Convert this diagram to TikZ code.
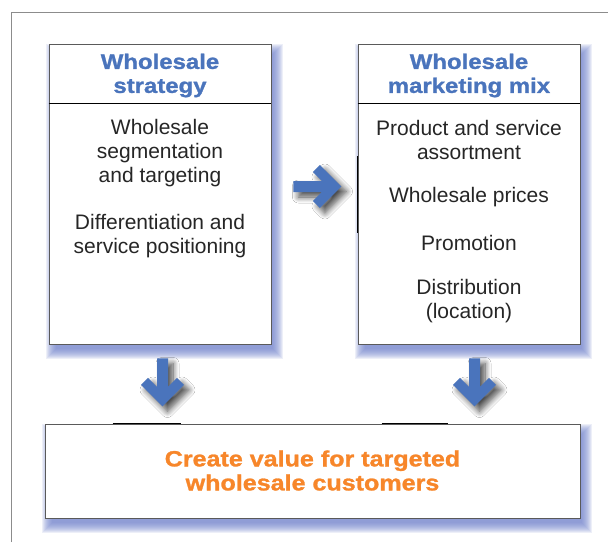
\documentclass[tikz,border=0pt]{standalone}
\usepackage{fontspec}
\setmainfont{Liberation Sans}
\newfontfamily\heavyfont{Liberation Sans}[BoldFeatures={FakeBold=1.2, FakeStretch=1.14}]
\usepackage{tikz}
\usetikzlibrary{calc, shadows.blur}
\definecolor{mixblue}{HTML}{4A74BC}
\definecolor{valueorange}{HTML}{F7862A}
\definecolor{frameline}{HTML}{8C8C8C}
\definecolor{boxline}{HTML}{5A5A5A}
\definecolor{haloblue}{HTML}{7585CF}
% soft blue glow behind a box, given its corners
\newcommand{\boxhalo}[4]{%
  \foreach \k in {8,7,...,-2}
    \fill[haloblue, opacity=0.13] (#1+5-\k,#2+8-\k) rectangle (#3+4+\k,#4+7+\k);}

\begin{document}
\begin{tikzpicture}[
    x=1pt, y=-1pt,
    panel/.style={rectangle, draw=boxline, fill=white, line width=0.9pt},
    head/.style={align=center, text=mixblue, font=\heavyfont\bfseries\fontsize{21}{24}\selectfont, inner sep=0pt},
    body/.style={align=center, text=black!85, font=\fontsize{21}{24}\selectfont, inner sep=0pt},
    value/.style={align=center, text=valueorange, font=\heavyfont\bfseries\fontsize{22}{24}\selectfont, inner sep=0pt},
    arrowfill/.style={fill=mixblue, blur shadow={shadow xshift=5pt, shadow yshift=-5pt, shadow blur radius=6pt, shadow blur steps=10, shadow opacity=70}},
    rightarrow/.pic={\fill[arrowfill] (0,-5.5) -- (28.5,-5.5) -- (19.5,-14.5) -- (26.5,-21.5) -- (48,0)
        -- (26.5,21.5) -- (19.5,14.5) -- (28.5,5.5) -- (0,5.5) -- cycle;},
    downarrow/.pic={\fill[arrowfill] (-5.5,0) -- (-5.5,28.5) -- (-14.5,19.5) -- (-21.5,26.5) -- (0,48)
        -- (21.5,26.5) -- (14.5,19.5) -- (5.5,28.5) -- (5.5,0) -- cycle;}
]
\useasboundingbox (0,0) rectangle (608,542);
\fill[white] (0,0) rectangle (608,542);
\boxhalo{49}{44}{271}{344}
\boxhalo{358}{44}{580}{344}
\boxhalo{45}{424}{580}{518}

% the three boxes
\node[panel, minimum width=222pt, minimum height=300pt] (strat) at (160,194) {};
\node[panel, minimum width=222pt, minimum height=300pt] (mix) at (469,194) {};
\node[panel, minimum width=535pt, minimum height=94pt] (value) at (312.5,471) {};
\draw[frameline, line width=1pt] (11,542) -- (11,12) -- (608,12);
\draw[line width=0.9pt] (strat.west |- 0,103) -- (strat.east |- 0,103);
\draw[line width=0.9pt] (mix.west |- 0,103) -- (mix.east |- 0,103);
\draw[line width=1.8pt] (mix.west |- 0,156) -- (mix.west |- 0,233);
\draw[line width=0.9pt] (value.north west) ++(68,0) -- ++(68,0);
\draw[line width=0.9pt] (value.north west) ++(337,0) -- ++(66,0);

% texts
\node[head] (strathead) at (strat.north |- 0,75.5) {Wholesale\\strategy};
\node[head] (mixhead) at (mix.north |- 0,75.5) {Wholesale\\marketing mix};
\node[body] (segment) at (strat.north |- 0,153) {Wholesale\\segmentation\\and targeting};
\node[body] (position) at (strat.north |- 0,236) {Differentiation and\\service positioning};
\node[body] (assort) at (mix.north |- 0,140) {Product and service\\assortment};
\node[body] (prices) at (mix.north |- 0,197) {Wholesale prices};
\node[body] (promo) at (mix.north |- 0,243) {Promotion};
\node[body] (distrib) at (mix.north |- 0,301) {Distribution\\(location)};
\node[value] (valuetext) at (value.center |- 0,470.5) {Create value for targeted\\wholesale customers};

% block arrows
\pic at ($(strat.east)+(22,-7.5)$) {rightarrow};
\pic at ($(strat.south)+(2.5,14)$) {downarrow};
\pic at ($(mix.south)+(5.5,14)$) {downarrow};
\end{tikzpicture}
\end{document}
